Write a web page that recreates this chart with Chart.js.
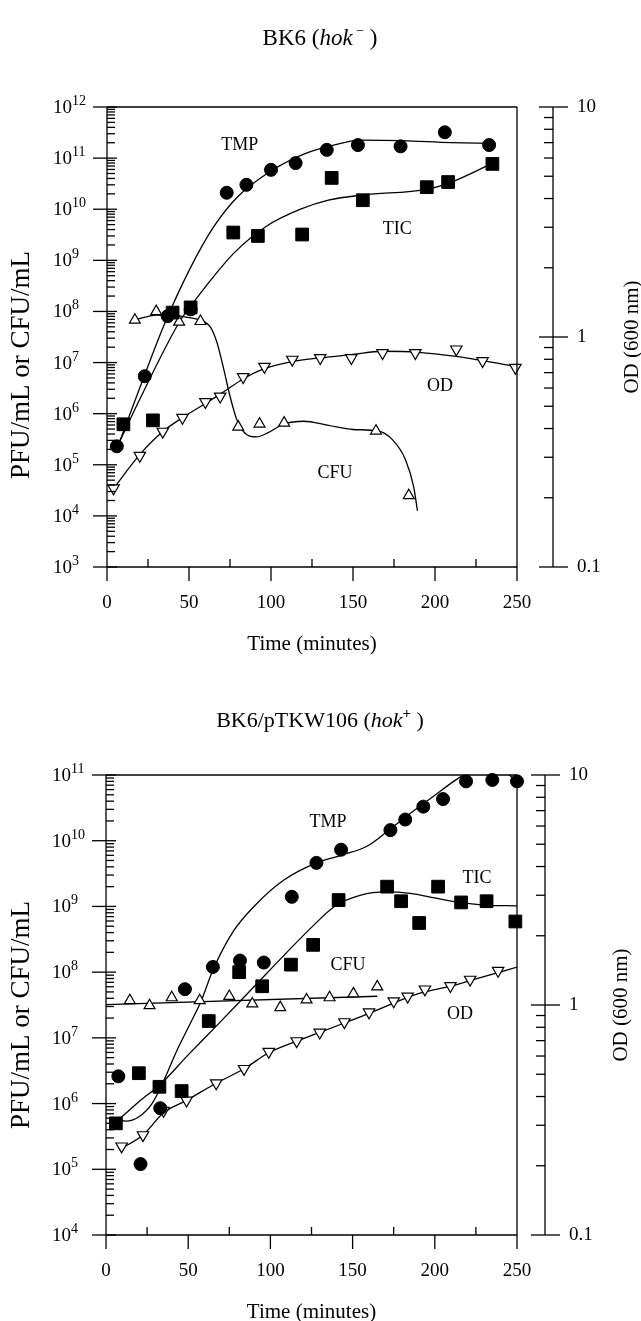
<!DOCTYPE html>
<html>
<head>
<meta charset="utf-8">
<title>Phage growth curves</title>
<script src="https://cdn.jsdelivr.net/npm/chart.js@4.4.1/dist/chart.umd.min.js"></script>
<style>
  html, body { margin: 0; padding: 0; background: #fff; }
  canvas { display: block; }
</style>
</head>
<body>
<canvas id="chartTop" width="641" height="680"></canvas>
<canvas id="chartBottom" width="641" height="641"></canvas>
<script>
// ---------- Panel 1: BK6 (hok-) ----------
const topTmpTime  = [6, 23, 37, 51, 73, 85, 100, 115, 134, 153, 179, 206, 233];
const topTmpValue = [2.3e5, 5.4e6, 8.1e7, 1.1e8, 2.1e10, 3.0e10, 5.9e10, 8.0e10, 1.45e11, 1.8e11, 1.7e11, 3.2e11, 1.8e11];
const topTicTime  = [10, 28, 40, 51, 77, 92, 119, 137, 156, 195, 208, 235];
const topTicValue = [6.2e5, 7.4e5, 9.5e7, 1.2e8, 3.5e9, 3.0e9, 3.2e9, 4.1e10, 1.5e10, 2.7e10, 3.4e10, 7.7e10];
const topCfuTime  = [17, 30, 44, 57, 80, 93, 108, 164, 184];
const topCfuValue = [6.8e7, 1.0e8, 6.2e7, 6.4e7, 5.5e5, 6.3e5, 6.6e5, 4.6e5, 2.5e4];
const topOdTime   = [4, 20, 34, 46, 60, 69, 83, 96, 113, 130, 149, 168, 188, 213, 229, 249];
const topOdValue  = [0.22, 0.305, 0.388, 0.446, 0.522, 0.552, 0.671, 0.743, 0.798, 0.811, 0.811, 0.853, 0.853, 0.884, 0.787, 0.736];

// fitted curves
const topTmpCurveTime  = [6, 20, 35, 50, 65, 80, 100, 120, 140, 155, 180, 210, 235];
const topTmpCurveValue = [2e5, 3.2e6, 5.6e7, 6.3e8, 4.5e9, 1.8e10, 5.6e10, 1.2e11, 1.86e11, 2.24e11, 2.19e11, 2.0e11, 1.95e11];
const topTicCurveTime  = [6, 22, 44.5, 52, 65, 77.5, 97, 118, 135, 156, 195, 208, 235];
const topTicCurveValue = [2.2e5, 2.6e6, 6.5e7, 1.4e8, 4.8e8, 1.4e9, 4.6e9, 1.0e10, 1.5e10, 1.9e10, 2.45e10, 3.2e10, 7.9e10];
const topCfuCurveTime  = [17, 30, 42, 52, 58, 63, 67, 71, 75, 79, 84, 91, 98, 108, 120, 135, 150, 165, 174, 182, 187, 189.3];
const topCfuCurveValue = [6.8e7, 8.5e7, 8.3e7, 7.4e7, 6.6e7, 5.0e7, 2.5e7, 7.9e6, 2.2e6, 7.9e5, 4.2e5, 3.5e5, 4.2e5, 6.3e5, 7.1e5, 5.9e5, 4.9e5, 4.6e5, 3.1e5, 1.26e5, 3.7e4, 1.26e4];
const topOdCurveTime   = [3, 20, 34, 46, 60, 70, 83, 96, 113, 130, 150, 168, 190, 213, 230, 249];
const topOdCurveValue  = [0.215, 0.308, 0.388, 0.446, 0.514, 0.57, 0.657, 0.728, 0.782, 0.811, 0.84, 0.867, 0.858, 0.823, 0.787, 0.743];

const topLabelText  = ['TMP', 'TIC', 'OD', 'CFU'];
const topLabelTime  = [81, 177, 203, 139];
const topLabelValue = [1.8e11, 4.1e9, 3.5e6, 6.9e4];
const topYExps = [3, 4, 5, 6, 7, 8, 9, 10, 11, 12];

// ---------- Panel 2: BK6/pTKW106 (hok+) ----------
const botTmpTime  = [7.5, 21, 33, 48, 65, 81.5, 96, 113, 128, 143, 173, 182, 193, 205, 219, 235, 250];
const botTmpValue = [2.6e6, 1.2e5, 8.5e5, 5.5e7, 1.2e8, 1.5e8, 1.4e8, 1.4e9, 4.6e9, 7.3e9, 1.45e10, 2.1e10, 3.3e10, 4.3e10, 8e10, 8.4e10, 8e10];
const botTicTime  = [6, 20, 32.5, 46, 62.5, 81, 95, 112.5, 126, 141.5, 171, 179.5, 190.5, 202, 216, 231.5, 249];
const botTicValue = [5e5, 2.9e6, 1.8e6, 1.55e6, 1.8e7, 1e8, 6.1e7, 1.3e8, 2.6e8, 1.25e9, 2e9, 1.2e9, 5.6e8, 2e9, 1.15e9, 1.2e9, 5.9e8];
const botCfuTime  = [14.5, 26.5, 40, 57, 75, 89, 106, 122, 136, 150.5, 165];
const botCfuValue = [3.7e7, 3.1e7, 4.1e7, 3.7e7, 4.3e7, 3.3e7, 2.9e7, 3.8e7, 4.1e7, 4.7e7, 6e7];
const botOdTime   = [9.5, 22.5, 35, 49, 67, 84, 99, 116, 130, 145, 160, 175, 183.5, 194, 209.5, 221.5, 238.5];
const botOdValue  = [0.243, 0.272, 0.347, 0.385, 0.457, 0.528, 0.627, 0.697, 0.76, 0.843, 0.93, 1.04, 1.09, 1.17, 1.21, 1.29, 1.41];

const botTmpCurveTime  = [5, 12, 20, 28, 35, 43, 52, 58, 65, 77.5, 90, 108, 128, 143, 159, 171, 185, 199, 213, 221, 232, 243, 250];
const botTmpCurveValue = [5.9e5, 5.4e5, 6.3e5, 1e6, 2.2e6, 6.3e6, 1.8e7, 3.7e7, 1.07e8, 4.2e8, 1e9, 2.5e9, 4.6e9, 6e9, 8.3e9, 1.38e10, 2.6e10, 4.7e10, 8.5e10, 1.12e11, 1.26e11, 1.12e11, 7.6e10];
const botTicCurveTime  = [6, 20, 32.5, 50, 70, 90, 110, 125, 139, 155, 170, 185, 200, 215, 230, 250];
const botTicCurveValue = [5.2e5, 1.07e6, 1.9e6, 5.5e6, 1.8e7, 6e7, 2e8, 4.8e8, 1e9, 1.48e9, 1.66e9, 1.58e9, 1.35e9, 1.15e9, 1.05e9, 1.02e9];
const botCfuCurveTime  = [0, 165];
const botCfuCurveValue = [3.2e7, 4.3e7];
const botOdCurveTime   = [8, 22.5, 35, 49, 67, 84, 99, 116, 130, 145, 160, 175, 190, 210, 225, 250];
const botOdCurveValue  = [0.235, 0.272, 0.34, 0.385, 0.457, 0.528, 0.62, 0.697, 0.76, 0.835, 0.92, 1.02, 1.12, 1.21, 1.3, 1.46];

const botLabelText  = ['TMP', 'TIC', 'CFU', 'OD'];
const botLabelTime  = [135, 225.7, 147.2, 215.3];
const botLabelValue = [1.9e10, 2.7e9, 1.26e8, 2.3e7];
const botYExps = [4, 5, 6, 7, 8, 9, 10, 11];

// shared ticks
const xTickValues  = [0, 50, 100, 150, 200, 250];
const xMinorValues = [25, 75, 125, 175, 225];
const odTickValues = [0.1, 1, 10];
const odTickLabels = ['0.1', '1', '10'];
const minorSteps   = [2, 3, 4, 5, 6, 7, 8, 9];

const FONT = '"Liberation Serif", "Times New Roman", serif';

const pairs = (xs, ys) => xs.map((x, i) => ({x: x, y: ys[i]}));

function markers(xs, ys, style, axisId) {
  const ds = {
    type: 'scatter', data: pairs(xs, ys), yAxisID: axisId, order: 0, clip: false,
    showLine: false, pointBorderColor: '#000', pointBackgroundColor: '#000', pointBorderWidth: 1
  };
  if (style === 'circle') Object.assign(ds, {pointStyle: 'circle', pointRadius: 6.5});
  if (style === 'square') Object.assign(ds, {pointStyle: 'rect', pointRadius: 9});
  if (style === 'up') Object.assign(ds, {pointStyle: 'triangle', pointRadius: 6.3, pointBackgroundColor: '#fff', pointBorderWidth: 1.2});
  if (style === 'down') Object.assign(ds, {pointStyle: 'triangle', pointRotation: 180, pointRadius: 6.6, pointBackgroundColor: '#fff', pointBorderWidth: 1.2});
  return ds;
}

function curve(xs, ys, axisId) {
  return {
    type: 'line', data: pairs(xs, ys), yAxisID: axisId, order: 1, clip: 0,
    borderColor: '#000', borderWidth: 1.3, pointRadius: 0, fill: false,
    cubicInterpolationMode: 'monotone'
  };
}

function drawPieces(ctx, pieces, cx, baseY) {
  let total = 0;
  pieces.forEach(p => { ctx.font = p.font; p.w = ctx.measureText(p.text).width; total += p.w; });
  let xx = cx - total / 2;
  ctx.textAlign = 'left';
  ctx.textBaseline = 'alphabetic';
  pieces.forEach(p => { ctx.font = p.font; ctx.fillText(p.text, xx, baseY + (p.dy || 0)); xx += p.w; });
}

// axes, ticks and text drawn with the chart's own scales
function makeAxes(cfg) {
  return {
    id: 'sciAxes',
    afterDraw(chart) {
      const ctx = chart.ctx, a = chart.chartArea;
      const x = chart.scales.x, y = chart.scales.y, od = chart.scales.od;
      const seg = (x1, y1, x2, y2) => { ctx.beginPath(); ctx.moveTo(x1, y1); ctx.lineTo(x2, y2); ctx.stroke(); };
      ctx.save();
      ctx.strokeStyle = '#000';
      ctx.fillStyle = '#000';
      ctx.lineWidth = 1.3;

      // frame
      seg(a.left, a.top, a.right, a.top);
      seg(a.left, a.bottom, a.right, a.bottom);
      seg(a.left, a.top, a.left, a.bottom);
      seg(a.right, a.top, a.right, a.bottom);

      // x axis
      ctx.font = '19px ' + FONT;
      ctx.textAlign = 'center';
      ctx.textBaseline = 'middle';
      xTickValues.forEach(v => {
        const px = x.getPixelForValue(v);
        seg(px, a.bottom, px, a.bottom + 14);
        ctx.fillText(String(v), px, a.bottom + 36);
      });
      xMinorValues.forEach(v => {
        const px = x.getPixelForValue(v);
        seg(px, a.bottom, px, a.bottom - 8);
      });
      ctx.font = '21px ' + FONT;
      ctx.fillText('Time (minutes)', (a.left + a.right) / 2, a.bottom + 77);

      // left log axis
      cfg.yExps.forEach((e, i) => {
        const py = y.getPixelForValue(Math.pow(10, e));
        seg(a.left - 14, py, a.left + 10, py);
        ctx.textAlign = 'left';
        ctx.textBaseline = 'alphabetic';
        ctx.font = '19px ' + FONT;
        ctx.fillText('10', cfg.yLabelX, py + 6);
        const w = ctx.measureText('10').width;
        ctx.font = '14px ' + FONT;
        ctx.fillText(String(e), cfg.yLabelX + w, py - 2);
        if (i < cfg.yExps.length - 1) {
          minorSteps.forEach(m => {
            const pm = y.getPixelForValue(m * Math.pow(10, e));
            seg(a.left, pm, a.left + 8, pm);
          });
        }
      });
      ctx.save();
      ctx.translate(cfg.yTitleX, (a.top + a.bottom) / 2 + cfg.yTitleShift);
      ctx.rotate(-Math.PI / 2);
      ctx.font = '27px ' + FONT;
      ctx.textAlign = 'center';
      ctx.textBaseline = 'middle';
      ctx.fillText('PFU/mL or CFU/mL', 0, 0);
      ctx.restore();

      // right OD axis, set apart from the frame
      const rx = cfg.rightX;
      seg(rx, od.getPixelForValue(10), rx, od.getPixelForValue(0.1));
      ctx.font = '19px ' + FONT;
      ctx.textAlign = 'left';
      ctx.textBaseline = 'middle';
      odTickValues.forEach((v, i) => {
        const py = od.getPixelForValue(v);
        seg(rx - 14, py, rx + 15, py);
        ctx.fillText(odTickLabels[i], cfg.rightLabelX, py);
        if (i < odTickValues.length - 1) {
          minorSteps.forEach(m => {
            const pm = od.getPixelForValue(m * v);
            seg(rx - 9, pm, rx, pm);
          });
        }
      });
      ctx.save();
      ctx.translate(cfg.odTitleX, od.getPixelForValue(1));
      ctx.rotate(-Math.PI / 2);
      ctx.font = '21px ' + FONT;
      ctx.textAlign = 'center';
      ctx.textBaseline = 'middle';
      ctx.fillText('OD (600 nm)', 0, 0);
      ctx.restore();

      // series labels inside the plot
      ctx.font = '18px ' + FONT;
      ctx.textAlign = 'center';
      ctx.textBaseline = 'middle';
      cfg.labelText.forEach((t, i) => {
        ctx.fillText(t, x.getPixelForValue(cfg.labelTime[i]), y.getPixelForValue(cfg.labelValue[i]));
      });

      // panel title
      drawPieces(ctx, cfg.title, cfg.titleX, cfg.titleBase);
      ctx.restore();
    }
  };
}

function buildChart(id, sets, yMin, yMax, padding, cfg) {
  return new Chart(document.getElementById(id), {
    data: { datasets: sets },
    options: {
      responsive: false,
      animation: false,
      devicePixelRatio: 1,
      events: [],
      layout: { padding: padding },
      plugins: { legend: { display: false }, tooltip: { enabled: false } },
      scales: {
        x: { type: 'linear', min: 0, max: 250, display: false },
        y: { type: 'logarithmic', min: yMin, max: yMax, display: false },
        od: { type: 'logarithmic', min: 0.1, max: 10, display: false, position: 'right' }
      }
    },
    plugins: [makeAxes(cfg)]
  });
}

buildChart('chartTop', [
  markers(topTmpTime, topTmpValue, 'circle', 'y'),
  markers(topTicTime, topTicValue, 'square', 'y'),
  markers(topCfuTime, topCfuValue, 'up', 'y'),
  markers(topOdTime, topOdValue, 'down', 'od'),
  curve(topTmpCurveTime, topTmpCurveValue, 'y'),
  curve(topTicCurveTime, topTicCurveValue, 'y'),
  curve(topCfuCurveTime, topCfuCurveValue, 'y'),
  curve(topOdCurveTime, topOdCurveValue, 'od')
], 1e3, 1e12, {left: 107, right: 124, top: 107, bottom: 113}, {
  yExps: topYExps, yLabelX: 53, yTitleX: 22, yTitleShift: 28,
  rightX: 553, rightLabelX: 577, odTitleX: 632,
  labelText: topLabelText, labelTime: topLabelTime, labelValue: topLabelValue,
  titleX: 320, titleBase: 45,
  title: [
    {text: 'BK6 (', font: '23px ' + FONT},
    {text: 'hok', font: 'italic 23px ' + FONT},
    {text: ' \u2212', font: '14px ' + FONT, dy: -10},
    {text: ' )', font: '23px ' + FONT}
  ]
});

buildChart('chartBottom', [
  markers(botTmpTime, botTmpValue, 'circle', 'y'),
  markers(botTicTime, botTicValue, 'square', 'y'),
  markers(botCfuTime, botCfuValue, 'up', 'y'),
  markers(botOdTime, botOdValue, 'down', 'od'),
  curve(botTmpCurveTime, botTmpCurveValue, 'y'),
  curve(botTicCurveTime, botTicCurveValue, 'y'),
  curve(botCfuCurveTime, botCfuCurveValue, 'y'),
  curve(botOdCurveTime, botOdCurveValue, 'od')
], 1e4, 1e11, {left: 106, right: 124, top: 95, bottom: 86}, {
  yExps: botYExps, yLabelX: 52, yTitleX: 22, yTitleShift: 10,
  rightX: 545, rightLabelX: 569, odTitleX: 621,
  labelText: botLabelText, labelTime: botLabelTime, labelValue: botLabelValue,
  titleX: 320, titleBase: 47,
  title: [
    {text: 'BK6/pTKW106 (', font: '22px ' + FONT},
    {text: 'hok', font: 'italic 22px ' + FONT},
    {text: '+', font: 'bold 15px ' + FONT, dy: -9},
    {text: ' )', font: '22px ' + FONT}
  ]
});
</script>
</body>
</html>
